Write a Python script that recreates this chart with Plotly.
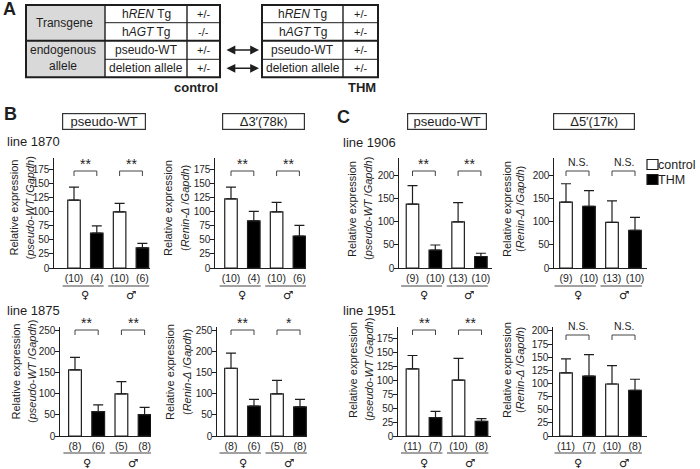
import plotly.graph_objects as go

W, H = 700, 469
FONT = "Liberation Sans, Arial, Helvetica, sans-serif"
SYMFONT = "DejaVu Sans, Liberation Sans, sans-serif"
INK = "#1e1e1e"

# ---------------- data ----------------
groups = ["female control", "female THM", "male control", "male THM"]
conditions = ["control", "THM", "control", "THM"]
sexes = ["♀", "♂"]
legend_names = ["control", "THM"]

# line 1870
mean_1870_pwt = [121, 62, 100, 36]
sem_1870_pwt = [23, 13, 15, 8]
mean_1870_d3 = [123, 84, 100, 57]
sem_1870_d3 = [21, 17, 17, 19]
n_1870 = ["(10)", "(4)", "(10)", "(6)"]
sig_1870_pwt = ["**", "**"]
sig_1870_d3 = ["**", "**"]

# line 1875
mean_1875_pwt = [157, 58, 100, 51]
sem_1875_pwt = [30, 16, 29, 17]
mean_1875_d3 = [161, 71, 100, 69]
sem_1875_d3 = [36, 16, 32, 18]
n_1875 = ["(8)", "(6)", "(5)", "(8)"]
sig_1875_pwt = ["**", "**"]
sig_1875_d3 = ["**", "*"]

# line 1906
mean_1906_pwt = [139, 39, 100, 25]
sem_1906_pwt = [40, 11, 42, 7]
mean_1906_d5 = [143, 134, 99, 82]
sem_1906_d5 = [40, 34, 47, 28]
n_1906 = ["(9)", "(10)", "(13)", "(10)"]
sig_1906_pwt = ["**", "**"]
sig_1906_d5 = ["N.S.", "N.S."]

# line 1951
mean_1951_pwt = [120, 33, 100, 26]
sem_1951_pwt = [24, 11, 39, 5]
mean_1951_d5 = [120, 114, 99, 87]
sem_1951_d5 = [27, 41, 35, 21]
n_1951 = ["(11)", "(7)", "(10)", "(8)"]
sig_1951_pwt = ["**", "**"]
sig_1951_d5 = ["N.S.", "N.S."]

ticks_175 = [0, 25, 50, 75, 100, 125, 150, 175]
ticks_200_by50 = [0, 50, 100, 150, 200]
ticks_250 = [0, 50, 100, 150, 200, 250]
ticks_200_by25 = [0, 25, 50, 75, 100, 125, 150, 175, 200]

ylabel_main = "Relative expression"
ylabel_pwt = "(<i>pseudo-WT</i> /<i>Gapdh</i>)"
ylabel_del = "(<i>Renin-Δ</i> /<i>Gapdh</i>)"

line_labels = ["line 1870", "line 1875", "line 1906", "line 1951"]
panel_titles = ["pseudo-WT", "Δ3′(78k)", "pseudo-WT", "Δ5′(17k)"]

# table (panel A)
table_groups = ["Transgene", "endogenous<br>allele"]
table_rows = ["h<i>REN</i> Tg", "h<i>AGT</i> Tg", "pseudo-WT", "deletion allele"]
control_genotype = ["+/-", "-/-", "+/-", "+/-"]
thm_genotype = ["+/-", "+/-", "+/-", "+/-"]
table_names = ["control", "THM"]

COLORS = {"control": "white", "THM": "black"}


def px(x):
    return x / W


def py(y):
    return 1 - y / H


# ---------------- panel geometry (pixels) ----------------
TOP = dict(ytop=158, yzero=268, uline_y=286, sex_y=294, br_y=171)
BOT = dict(ytop=327, yzero=436, uline_y=453, sex_y=462.5, br_y=330)

panels = [
    dict(mean=mean_1870_pwt, sem=sem_1870_pwt, n=n_1870, sig=sig_1870_pwt, ticks=ticks_175, ymax=196,
         sub=ylabel_pwt, ax=54, c0=74, step=22.8, xend=150, re_x=13.5, sub_x=29.5, lab_y=208, row=TOP),
    dict(mean=mean_1870_d3, sem=sem_1870_d3, n=n_1870, sig=sig_1870_d3, ticks=ticks_175, ymax=196,
         sub=ylabel_del, ax=215, c0=231, step=22.8, xend=306, re_x=168, sub_x=185, lab_y=208, row=TOP),
    dict(mean=mean_1906_pwt, sem=sem_1906_pwt, n=n_1906, sig=sig_1906_pwt, ticks=ticks_200_by50, ymax=239,
         sub=ylabel_pwt, ax=399, c0=412.5, step=22.8, xend=492, re_x=352, sub_x=368, lab_y=209, row=TOP),
    dict(mean=mean_1906_d5, sem=sem_1906_d5, n=n_1906, sig=sig_1906_d5, ticks=ticks_200_by50, ymax=239,
         sub=ylabel_del, ax=554, c0=566, step=23, xend=647, re_x=507, sub_x=520, lab_y=209, row=TOP),
    dict(mean=mean_1875_pwt, sem=sem_1875_pwt, n=n_1875, sig=sig_1875_pwt, ticks=ticks_250, ymax=259,
         sub=ylabel_pwt, ax=60, c0=75, step=23.2, xend=151, re_x=15.5, sub_x=32, lab_y=372, row=BOT),
    dict(mean=mean_1875_d3, sem=sem_1875_d3, n=n_1875, sig=sig_1875_d3, ticks=ticks_250, ymax=259,
         sub=ylabel_del, ax=217, c0=231, step=23, xend=307, re_x=170, sub_x=187, lab_y=372, row=BOT),
    dict(mean=mean_1951_pwt, sem=sem_1951_pwt, n=n_1951, sig=sig_1951_pwt, ticks=ticks_175, ymax=195,
         sub=ylabel_pwt, ax=398, c0=412.5, step=23, xend=491, re_x=353, sub_x=369, lab_y=370, row=BOT),
    dict(mean=mean_1951_d5, sem=sem_1951_d5, n=n_1951, sig=sig_1951_d5, ticks=ticks_200_by25, ymax=207.5,
         sub=ylabel_del, ax=553, c0=566, step=23, xend=647, re_x=507, sub_x=520, lab_y=370, row=BOT),
]

fig = go.Figure()
shapes = []
annotations = []
xpos = list(range(len(groups)))
bar_colors = [COLORS[c] for c in conditions]


def text(x, y, s, size=11, xanchor="center", yanchor="middle", bold=False, angle=0,
         xref="paper", yref="paper", family=FONT, **kw):
    annotations.append(dict(
        x=x, y=y, xref=xref, yref=yref, text=(f"<b>{s}</b>" if bold else s), showarrow=False,
        xanchor=xanchor, yanchor=yanchor, textangle=angle,
        font=dict(family=family, size=size, color=INK), **kw))


def pline(x0, y0, x1, y1, w=1.0, color=INK, xref="paper", yref="paper"):
    shapes.append(dict(type="line", xref=xref, yref=yref, x0=x0, y0=y0, x1=x1, y1=y1,
                       line=dict(color=color, width=w)))


for i, p in enumerate(panels, start=1):
    xa = "x" if i == 1 else f"x{i}"
    ya = "y" if i == 1 else f"y{i}"
    row = p["row"]
    left = -(p["c0"] - p["ax"]) / p["step"]
    right = (p["xend"] - p["c0"]) / p["step"]
    fig.add_trace(go.Bar(
        x=xpos, y=p["mean"], width=0.55, xaxis=xa, yaxis=ya, showlegend=False,
        marker=dict(color=bar_colors, line=dict(color=INK, width=1.2)),
        error_y=dict(type="data", symmetric=False, array=p["sem"], arrayminus=[0] * len(p["sem"]),
                     color=INK, thickness=1.2, width=5),
        hovertext=groups,
    ))
    fig.layout[f"xaxis{'' if i == 1 else i}"] = dict(
        domain=[px(p["ax"]), px(p["xend"])], range=[left, right], anchor=ya,
        showline=True, linecolor=INK, linewidth=1.3, ticks="", showgrid=False, zeroline=False,
        tickvals=xpos, ticktext=p["n"], tickfont=dict(family=FONT, size=10.5, color=INK),
        fixedrange=True, automargin=False)
    fig.layout[f"yaxis{'' if i == 1 else i}"] = dict(
        domain=[py(row["yzero"]), py(row["ytop"])], range=[0, p["ymax"]], anchor=xa,
        showline=True, linecolor=INK, linewidth=1.3, ticks="outside", ticklen=3.5, tickwidth=1.2,
        tickcolor=INK, showgrid=False, zeroline=False, tickvals=p["ticks"], ticklabelstandoff=-2,
        tickfont=dict(family=FONT, size=10, color=INK), fixedrange=True, automargin=False)

    # y labels
    text(px(p["re_x"]), py(p["lab_y"]), ylabel_main, size=11, angle=-90)
    text(px(p["sub_x"]), py(p["lab_y"]), p["sub"], size=11, angle=-90)

    # sex underlines and symbols
    for k, sx in enumerate(sexes):
        base = 2 * k
        pline(base - 0.5, py(row["uline_y"]), base + 1.3, py(row["uline_y"]), w=1.2, color="#444",
              xref=xa, yref="paper")
        text(base + 0.5, py(row["sex_y"]), sx, size=11.5, xref=xa, family=SYMFONT,
             height=11, borderpad=0, valign="middle")

    # significance brackets
    for k, s in enumerate(p["sig"]):
        a, b = 2 * k, 2 * k + 1
        by = row["br_y"] + (5 if s == "N.S." and row is BOT else 0)
        drop = 5
        pline(a, py(by), b, py(by), w=1, color="#444", xref=xa)
        pline(a, py(by), a, py(by + drop), w=1, color="#444", xref=xa)
        pline(b, py(by), b, py(by + drop), w=1, color="#444", xref=xa)
        if s == "N.S.":
            text((a + b) / 2, py(by - 1), s, size=10.5, yanchor="bottom", xref=xa)
        else:
            text((a + b) / 2, py(by + 3), s, size=14, yanchor="bottom", xref=xa)

# panel titles (boxed)
title_boxes = [(104, 84), (263.5, 83), (446.5, 80), (594, 82)]
for t, (cx, bw) in zip(panel_titles, title_boxes):
    annotations.append(dict(
        x=px(cx), y=py(121.5), xref="paper", yref="paper", text=t, showarrow=False,
        xanchor="center", yanchor="middle", width=bw - 4, height=13, borderpad=1,
        bordercolor="#333", borderwidth=1.2, font=dict(family=FONT, size=13, color=INK)))

# line labels
for t, (x, y) in zip(line_labels, [(5, 141), (5, 310), (341, 142), (341, 310)]):
    text(px(x), py(y), t, size=13, xanchor="left")

# panel letters
for t, (x, y) in zip(["A", "B", "C"], [(1, 9), (2, 114), (335, 117)]):
    text(px(x), py(y), t, size=18, xanchor="left", bold=True)

# legend (panel C, top right)
for k, name in enumerate(legend_names):
    y0 = 159.5 + 15 * k
    shapes.append(dict(type="rect", xref="paper", yref="paper", x0=px(647), x1=px(658),
                       y0=py(y0), y1=py(y0 + 10), fillcolor=COLORS[name],
                       line=dict(color=INK, width=1.2)))
    text(px(657), py(y0 + 5), name, size=12.5, xanchor="left", borderpad=0)

# ---------------- table (panel A) ----------------
rows_y = [5, 22.7, 40.7, 59.3, 77.3]
LT = [26, 105, 187, 220]
RT = [262, 343, 378]
shapes.append(dict(type="rect", xref="paper", yref="paper", x0=px(LT[0]), x1=px(LT[1]),
                   y0=py(rows_y[0]), y1=py(rows_y[-1]), fillcolor="#d9d9d9", line=dict(width=0)))
for tbl in (LT, RT):
    x_left = tbl[0] if tbl is RT else tbl[1]
    pline(px(x_left), py(rows_y[1]), px(tbl[-1]), py(rows_y[1]), w=1)
    pline(px(x_left), py(rows_y[3]), px(tbl[-1]), py(rows_y[3]), w=1)
    pline(px(tbl[0]), py(rows_y[2]), px(tbl[-1]), py(rows_y[2]), w=2)
    for xv in tbl[1:-1]:
        pline(px(xv), py(rows_y[0]), px(xv), py(rows_y[-1]), w=1.4)
    shapes.append(dict(type="rect", xref="paper", yref="paper", x0=px(tbl[0]), x1=px(tbl[-1]),
                       y0=py(rows_y[0]), y1=py(rows_y[-1]), line=dict(color=INK, width=2)))

row_c = [(rows_y[j] + rows_y[j + 1]) / 2 for j in range(4)]
text(px(64), py(23), table_groups[0], size=12)
text(px(28), py(58.5), table_groups[1], size=12, xanchor="left")
for j in range(4):
    text(px((LT[1] + LT[2]) / 2), py(row_c[j]), table_rows[j], size=12)
    text(px((LT[2] + LT[3]) / 2), py(row_c[j]), control_genotype[j], size=11)
    text(px((RT[0] + RT[1]) / 2), py(row_c[j]), table_rows[j], size=12)
    text(px((RT[1] + RT[2]) / 2), py(row_c[j]), thm_genotype[j], size=11)
text(px(LT[-1]), py(87), table_names[0], size=13, xanchor="right", bold=True)
text(px(RT[-1]), py(87), table_names[1], size=13, xanchor="right", bold=True)

# double arrows between the tables
for j in (2, 3):
    annotations.append(dict(
        x=px(259), y=py(row_c[j]), xref="paper", yref="paper", ax=-34, ay=0, text="",
        showarrow=True, arrowside="end+start", arrowhead=2, arrowsize=1.1, arrowwidth=1.6,
        arrowcolor=INK, standoff=0, startstandoff=0))

fig.update_layout(
    width=W, height=H, margin=dict(l=0, r=0, t=0, b=0),
    paper_bgcolor="white", plot_bgcolor="white", showlegend=False,
    font=dict(family=FONT, color=INK), bargap=0.2, hovermode=False,
    shapes=shapes, annotations=annotations,
)

# remove the default 8px page margin so the 700x469 figure fills the window exactly
fig.write_html("out.html", config={"displayModeBar": False},
               post_script="document.body.style.margin='0';document.body.style.overflow='hidden';")
